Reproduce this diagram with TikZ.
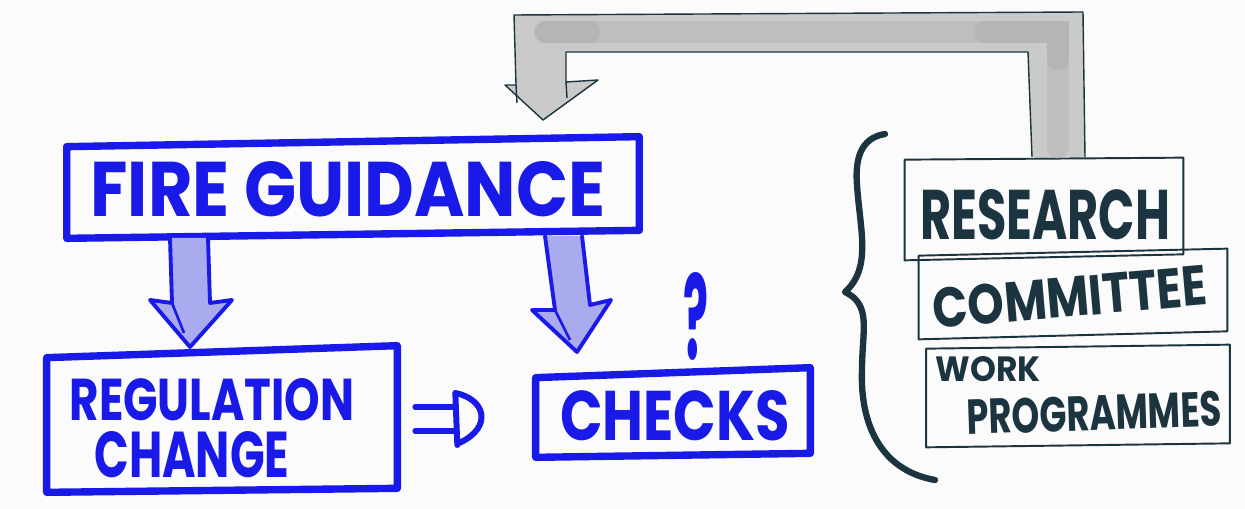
\documentclass[tikz,border=0pt]{standalone}
\usepackage{fontspec}
\setmainfont{Poppins}
\usepackage{graphicx}
\usetikzlibrary{calc}
\definecolor{pen}{RGB}{25,25,232}
\definecolor{lav}{RGB}{170,170,238}
\definecolor{ink}{RGB}{28,52,64}
\definecolor{greyfill}{RGB}{202,202,202}
\definecolor{greydark}{RGB}{182,182,182}
\definecolor{bgc}{RGB}{251,251,251}
\tikzset{
  bluebox/.style={draw=none,inner sep=0pt},
  blueline/.style={draw=pen,line width=4.2pt,line join=round,line cap=round},
  inkline/.style={draw=ink,line width=1.1pt,line join=round,line cap=round},
  bluetxt/.style={text=pen,inner sep=0pt,font=\bfseries},
  inktxt/.style={text=ink,inner sep=0pt,font=\bfseries},
  fatarrow/.style={draw=pen,line width=2.2pt,line join=round,line cap=round},
}
\begin{document}
\begin{tikzpicture}[x=0.02cm,y=-0.02cm]
\useasboundingbox (0,0) rectangle (1245,509);
\fill[bgc] (0,0) rectangle (1245,509);

% nodes: blue boxes
\node[bluebox,minimum width=11.44cm,minimum height=1.84cm] (fg) at (353,188) {};
\node[bluetxt] (fgt) at (348,189) {\resizebox{10.3cm}{1.1cm}{FIRE GUIDANCE}};
\draw[blueline] ($(fg.north west)+(0,5)$) -- ($(fg.north east)+(0,-5)$) -- ($(fg.south east)+(0,-4)$) -- ($(fg.south west)+(0,4)$) -- cycle;

\node[bluebox,minimum width=7cm,minimum height=2.76cm] (reg) at (222,421) {};
\node[bluetxt] (regt1) at (212,400) {\resizebox{5.7cm}{0.84cm}{REGULATION}};
\node[bluetxt] (regt2) at (192,455) {\resizebox{3.9cm}{0.92cm}{CHANGE}};
\draw[blueline] ($(reg.north west)+(0,6)$) -- ($(reg.north east)+(0,-6)$) -- ($(reg.south east)+(0,-2)$) -- ($(reg.south west)+(0,2)$) -- cycle;

\node[bluebox,minimum width=5.48cm,minimum height=1.64cm] (chk) at (673,414) {};
\node[bluetxt] (chkt) at (675,416) {\resizebox{4.6cm}{1.0cm}{CHECKS}};
\draw[blueline] ($(chk.north west)+(0,5)$) -- ($(chk.north east)+(0,-5)$) -- ($(chk.south east)+(0,-2)$) -- ($(chk.south west)+(0,2)$) -- cycle;

\node[bluetxt] (q) at (696,316) {\resizebox{0.5cm}{1.74cm}{?}};

% dark boxes
\node[bluebox,minimum width=5.56cm,minimum height=1.96cm] (res) at (1044,209) {};
\node[inktxt] (rest) at (1045,215) {\resizebox{5cm}{1cm}{RESEARCH}};
\draw[inkline] ($(res.north west)+(0,0)$) -- ($(res.north east)+(0,-2)$) -- ($(res.south east)+(0,-4)$) -- ($(res.south west)+(0,2)$) -- cycle;

\node[bluebox,minimum width=6.16cm,minimum height=1.64cm] (com) at (1073,294) {};
\node[inktxt] (comt) at (1070,297) {\rotatebox{5}{\resizebox{5.5cm}{0.8cm}{COMMITTEE}}};
\draw[inkline] ($(com.north west)+(0,3)$) -- ($(com.north east)+(0,-4)$) -- ($(com.south east)+(0,-4)$) -- ($(com.south west)+(0,4)$) -- cycle;

\node[bluebox,minimum width=6.06cm,minimum height=1.96cm] (wrk) at (1078,396) {};
\node[inktxt] (wrkt1) at (988,369) {\resizebox{2.1cm}{0.5cm}{WORK}};
\node[inktxt] (wrkt2) at (1094,413) {\rotatebox{2}{\resizebox{5.1cm}{0.7cm}{PROGRAMMES}}};
\draw[inkline] ($(wrk.north west)+(0,2)$) -- ($(wrk.north east)+(0,-2)$) -- ($(wrk.south east)+(0,-2)$) -- ($(wrk.south west)+(0,2)$) -- cycle;

% grey feedback arrow from research box to fire guidance
\path (res.north) ++(14,-2) coordinate (gs) (fg.north) ++(190,-28) coordinate (ge);
\fill[greyfill] (1032,157) -- (1028,52) -- (566,52) -- (566,82) -- (598,80) -- (543,120) -- (505,85) -- (516,85) -- (514,15) -- (1083,12) -- (1085,157) -- cycle;
\draw[greydark,line width=12pt,line cap=round,opacity=0.6] (545,32) -- (1058,32) -- (1058,148);
\draw[greydark!85!black,line width=12pt,line cap=round,opacity=0.25] (545,32) -- (590,32) (985,32) -- (1058,32) -- (1058,60);
\draw[ink,line width=0.8pt,line join=round] (1032,157) -- (1028,52) -- (566,52) -- (566,82) -- (598,80) -- (543,120) -- (505,85) -- (516,85) -- (514,15) -- (1083,12) -- (1085,157);
\draw[ink,line width=0.8pt] (516,85) -- (517,103) (566,82) -- (567,98);

% fat blue arrows
\path (fg.south) ++(-158,0) coordinate (a1) (reg.north) ++(-32,0) coordinate (a1e);
\fill[lav] (170,238) -- (172,303) -- (150,300) -- (190,347) -- (232,300) -- (210,303) -- (208,238) -- cycle;
\draw[fatarrow] (170,238) -- (172,303) -- (150,300) -- (190,347) -- (232,300) -- (210,303) -- (208,238);
\draw[pen,line width=1.5pt] (172,303) -- (184,333);

\fill[lav] (545,236) -- (555,310) -- (532,310) -- (577,352) -- (611,300) -- (590,305) -- (582,236) -- cycle;
\draw[fatarrow] (545,236) -- (555,310) -- (532,310) -- (577,352) -- (611,300) -- (590,305) -- (582,236);
\draw[pen,line width=1.5pt] (555,310) -- (570,340);

% =D arrow from reg to chk
\coordinate (d0) at ($(reg.east)+(18,-14)$);
\coordinate (d1) at ($(reg.east)+(18,10)$);
\draw[pen,line width=3.4pt,line cap=round] (d0) -- ++(40,0);
\draw[pen,line width=3.4pt,line cap=round] (d1) -- ++(40,0);
\draw[pen,line width=3.4pt,line cap=round,line join=round] ($(d0)+(40,-14)$) -- ($(d1)+(42,14)$) ($(d0)+(40,-14)$) .. controls ($(d0)+(70,-8)$) and ($(d0)+(78,20)$) .. ($(d1)+(44,12)$);

% brace
\draw[ink,line width=3.6pt,line cap=round,line join=round]
  (885,134) .. controls (860,138) and (855,160) .. (857,185)
  .. controls (860,230) and (872,268) .. (845,292)
  .. controls (872,305) and (862,330) .. (862,370)
  .. controls (860,420) and (878,470) .. (935,480);
\end{tikzpicture}
\end{document}
